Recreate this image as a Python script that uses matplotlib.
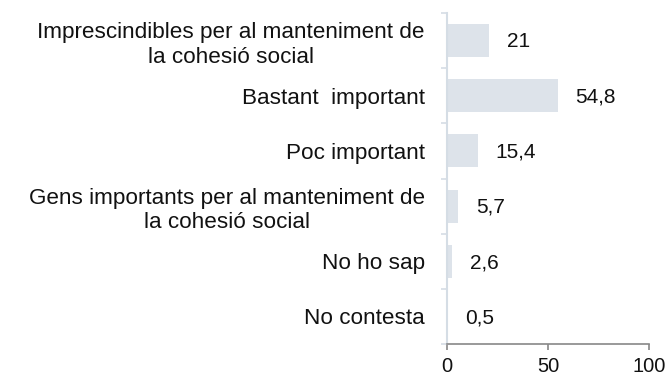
import matplotlib
matplotlib.use("Agg")
import matplotlib.pyplot as plt
import numpy as np

categories = ["Imprescindibles per al manteniment de\nla cohesió social",
              "Bastant  important",
              "Poc important",
              "Gens importants per al manteniment de\nla cohesió social",
              "No ho sap",
              "No contesta"]
values = [21, 54.8, 15.4, 5.7, 2.6, 0.5]
value_labels = ["21", "54,8", "15,4", "5,7", "2,6", "0,5"]
xticks = [0, 50, 100]

plt.rcParams['font.family'] = ['Liberation Sans', 'DejaVu Sans']

fig = plt.figure(figsize=(6.67, 3.77), dpi=100)
ax = fig.add_axes([0.670, 0.0875, 0.303, 0.878])

y = np.arange(len(categories))
ax.barh(y, values, height=0.6, color='#dde3ea', edgecolor='none')
for yi, v, lab in zip(y, values, value_labels):
    ax.annotate(lab, xy=(v, yi), xytext=(12.5, -1), textcoords='offset points',
                va='center', ha='left', fontsize=15, color='#111111')

ax.set_xlim(0, 100)
ax.set_ylim(len(categories) - 0.5, -0.5)
ax.set_yticks(y)
ax.set_yticklabels(categories, fontsize=16.2, multialignment='center', color='#111111',
                   linespacing=1.22)
ax.tick_params(axis='y', which='major', length=0, pad=16)
ax.set_yticks(np.arange(-0.5, len(categories)), minor=True)
ax.tick_params(axis='y', which='minor', length=4, color='#d5dde5', width=1.2)
ax.set_xticks(xticks)
ax.set_xticklabels([str(t) for t in xticks], fontsize=14.5, color='#111111')
ax.tick_params(axis='x', length=4, color='#888888', width=1.2, pad=5)

for s in ['top', 'right']:
    ax.spines[s].set_visible(False)
ax.spines['left'].set_color('#d5dde5')
ax.spines['left'].set_linewidth(1.5)
ax.spines['bottom'].set_color('#888888')
ax.spines['bottom'].set_linewidth(1.2)

fig.savefig('out.png', dpi=100)
